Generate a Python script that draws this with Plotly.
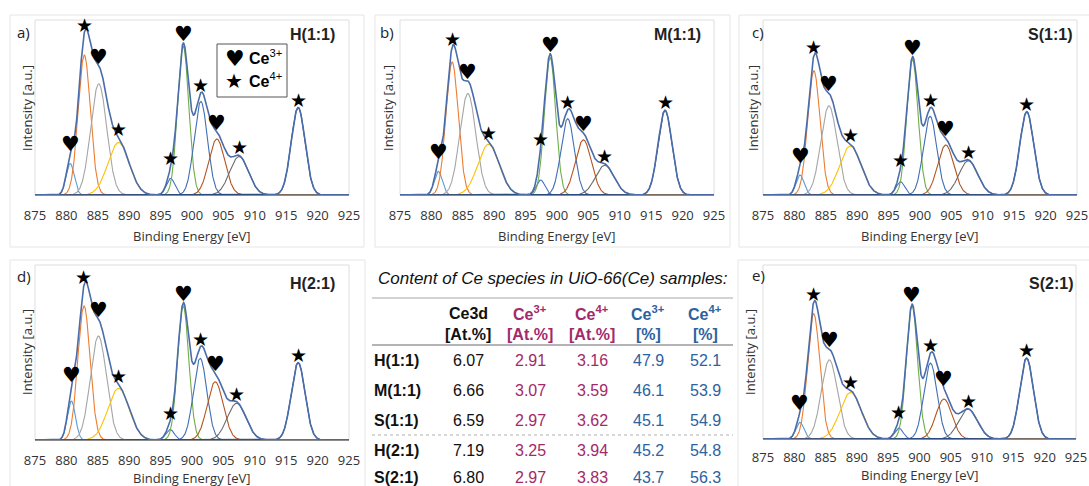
import numpy as np
import plotly.graph_objects as go

W, H = 1089, 486

# ---------------- data ----------------
energy_ticks = [875, 880, 885, 890, 895, 900, 905, 910, 915, 920, 925]
panel_letters = ["a)", "b)", "c)", "d)", "e)"]
panel_names = ["H(1:1)", "M(1:1)", "S(1:1)", "H(2:1)", "S(2:1)"]
# species of each fitted component (Ce3+ = heart, Ce4+ = star)
component_species = ["Ce3+", "Ce4+", "Ce3+", "Ce4+", "Ce4+", "Ce3+", "Ce4+", "Ce3+", "Ce4+", "Ce4+"]
component_fwhm = [1.5, 2.3, 3.0, 4.0, 1.6, 2.1, 2.5, 3.0, 3.5, 2.6]

centers_H11 = [880.6, 882.85, 885.15, 888.3, 896.6, 898.6, 901.4, 903.95, 907.5, 916.9]
heights_H11 = [0.18, 0.80, 0.636, 0.30, 0.095, 0.85, 0.535, 0.32, 0.22, 0.50]

centers_M11 = [881.1, 883.3, 885.8, 889.1, 897.4, 898.9, 901.7, 904.2, 907.6, 917.2]
heights_M11 = [0.135, 0.76, 0.58, 0.29, 0.086, 0.786, 0.436, 0.315, 0.17, 0.484]

centers_S11 = [880.9, 883.1, 885.5, 888.9, 896.9, 898.8, 901.6, 904.1, 907.7, 917.0]
heights_S11 = [0.114, 0.71, 0.51, 0.28, 0.076, 0.775, 0.45, 0.286, 0.196, 0.476]

centers_H21 = [880.8, 882.8, 885.1, 888.3, 896.5, 898.6, 901.3, 903.7, 907.1, 916.9]
heights_H21 = [0.223, 0.766, 0.594, 0.295, 0.06, 0.766, 0.467, 0.333, 0.21, 0.442]

centers_S21 = [880.9, 883.1, 885.6, 889.0, 896.7, 898.8, 901.75, 903.9, 907.75, 917.1]
heights_S21 = [0.096, 0.72, 0.455, 0.268, 0.063, 0.765, 0.436, 0.23, 0.172, 0.465]

table_samples = ["H(1:1)", "M(1:1)", "S(1:1)", "H(2:1)", "S(2:1)"]
table_ce3d_at = ["6.07", "6.66", "6.59", "7.19", "6.80"]
table_ce3_at = ["2.91", "3.07", "2.97", "3.25", "2.97"]
table_ce4_at = ["3.16", "3.59", "3.62", "3.94", "3.83"]
table_ce3_pct = ["47.9", "46.1", "45.1", "45.2", "43.7"]
table_ce4_pct = ["52.1", "53.9", "54.9", "54.8", "56.3"]

# ---------------- styles ----------------
comp_colors = ["#5B9BD5", "#ED7D31", "#A5A5A5", "#FFC000", "#4472C4",
               "#70AD47", "#3F6FB5", "#B5541F", "#6B6B6B", "#2B4A80"]
env_color = "#4A6CAA"
MAG = "#A3296A"
BLU = "#2D62A0"

def px(x):
    return x / W

def py(y):
    return 1 - y / H

def peak(x, c, h, f):
    return h * np.exp(-4 * np.log(2) * ((x - c) / f) ** 2)

# plot areas in pixels: (left, right, top, bottom)
plot_boxes = [
    (35, 349, 20, 195),
    (400, 714, 20, 195),
    (763, 1077, 20, 195),
    (35, 349, 265, 440),
    (763, 1076, 265, 439),
]
outer_boxes = [
    (10, 364, 15, 247),
    (375, 730, 15, 247),
    (739, 1095, 15, 247),
    (10, 365, 260, 495),
    (738, 1095, 260, 495),
]
tick_len = [8, 8, 8, 8, 6]
letter_pos = [(15, 32), (378, 32), (750, 32), (15, 276), (750, 275)]
name_pos = [(337, 34), (703, 34), (1074, 34), (337, 283), (1075, 283)]
ytitle_pos = [(27, 108), (388, 108), (753, 108), (27, 352), (750, 352)]
xtitle_pos = [(192, 236), (557, 236), (920, 236), (192, 478), (920, 475)]

panels = [
    (centers_H11, heights_H11),
    (centers_M11, heights_M11),
    (centers_S11, heights_S11),
    (centers_H21, heights_H21),
    (centers_S21, heights_S21),
]

fig = go.Figure()
annotations = []
shapes = []
x = np.linspace(875, 925, 1501)

for i, (centers, heights) in enumerate(panels):
    xa = "x" if i == 0 else f"x{i+1}"
    ya = "y" if i == 0 else f"y{i+1}"
    env = np.zeros_like(x)
    for k, (c, h) in enumerate(zip(centers, heights)):
        yk = peak(x, c, h, component_fwhm[k])
        env += yk
        fig.add_trace(go.Scatter(x=x, y=yk, mode="lines", xaxis=xa, yaxis=ya,
                                 line=dict(color=comp_colors[k], width=1.1),
                                 hoverinfo="skip", showlegend=False))
    fig.add_trace(go.Scatter(x=x, y=env, mode="lines", xaxis=xa, yaxis=ya,
                             line=dict(color=env_color, width=1.6),
                             hoverinfo="skip", showlegend=False))
    # species markers above each component
    for k, c in enumerate(centers):
        ev = float(np.interp(c, x, env))
        is_heart = component_species[k] == "Ce3+"
        sym = "\u2665" if is_heart else "\u2605"
        annotations.append(dict(x=c, y=ev, xref=xa, yref=ya, text=sym, showarrow=False,
                                xanchor="center", yanchor="bottom", yshift=-5,
                                font=dict(family="DejaVu Sans", size=21 if is_heart else 19,
                                          color="black")))
    L, R, T, B = plot_boxes[i]
    axname = "xaxis" if i == 0 else f"xaxis{i+1}"
    ayname = "yaxis" if i == 0 else f"yaxis{i+1}"
    fig.layout[axname] = dict(domain=[px(L), px(R)], anchor=ya, range=[875, 925],
                              tickvals=energy_ticks, ticks="outside", ticklen=tick_len[i],
                              tickcolor="rgba(0,0,0,0)", showgrid=False, zeroline=False,
                              showline=True, linecolor="#8c8c8c", linewidth=1,
                              automargin=False,
                              tickfont=dict(family="Open Sans", size=13, color="#333333"),
                              fixedrange=True)
    fig.layout[ayname] = dict(domain=[py(B), py(T)], anchor=xa, range=[0, 1],
                              showticklabels=False, showgrid=False, zeroline=False,
                              showline=False, ticks="", fixedrange=True, automargin=False)
    # plot area frame
    shapes.append(dict(type="rect", xref="paper", yref="paper",
                       x0=px(L), x1=px(R), y0=py(B), y1=py(T),
                       line=dict(color="#dedede", width=1), layer="below"))
    # chart area frame
    oL, oR, oT, oB = outer_boxes[i]
    shapes.append(dict(type="rect", xref="paper", yref="paper",
                       x0=px(oL), x1=px(oR), y0=py(oB), y1=py(oT),
                       line=dict(color="#e6e6e6", width=1), layer="below"))
    lx, ly = letter_pos[i]
    annotations.append(dict(x=px(lx), y=py(ly), xref="paper", yref="paper",
                            text=panel_letters[i], showarrow=False, xanchor="left",
                            yanchor="middle",
                            font=dict(family="Open Sans", size=15, color="#222222")))
    nx, ny = name_pos[i]
    annotations.append(dict(x=px(nx), y=py(ny), xref="paper", yref="paper",
                            text=f"<b>{panel_names[i]}</b>", showarrow=False,
                            xanchor="right", yanchor="middle",
                            font=dict(family="Liberation Sans", size=16, color="#222222")))
    tx, ty = ytitle_pos[i]
    annotations.append(dict(x=px(tx), y=py(ty), xref="paper", yref="paper",
                            text="Intensity [a.u.]", showarrow=False, textangle=-90,
                            xanchor="center", yanchor="middle",
                            font=dict(family="Open Sans", size=13, color="#333333")))
    bx, by = xtitle_pos[i]
    annotations.append(dict(x=px(bx), y=py(by), xref="paper", yref="paper",
                            text="Binding Energy [eV]", showarrow=False,
                            xanchor="center", yanchor="middle",
                            font=dict(family="Open Sans", size=13, color="#333333")))

# legend box in panel a
shapes.append(dict(type="rect", xref="paper", yref="paper",
                   x0=px(217), x1=px(287), y0=py(97), y1=py(44),
                   line=dict(color="#555555", width=1), fillcolor="white", layer="above"))
annotations.append(dict(x=px(235), y=py(58), xref="paper", yref="paper", text="\u2665",
                        showarrow=False, xanchor="center", yanchor="middle",
                        font=dict(family="DejaVu Sans", size=22, color="black")))
annotations.append(dict(x=px(234), y=py(81), xref="paper", yref="paper", text="\u2605",
                        showarrow=False, xanchor="center", yanchor="middle",
                        font=dict(family="DejaVu Sans", size=20, color="black")))
annotations.append(dict(x=px(247), y=py(57), xref="paper", yref="paper",
                        text="<b>Ce</b><sup>3+</sup>", showarrow=False, xanchor="left",
                        yanchor="middle",
                        font=dict(family="Liberation Sans", size=16, color="black")))
annotations.append(dict(x=px(247), y=py(80), xref="paper", yref="paper",
                        text="<b>Ce</b><sup>4+</sup>", showarrow=False, xanchor="left",
                        yanchor="middle",
                        font=dict(family="Liberation Sans", size=16, color="black")))

# ---------------- table ----------------
TF = "Liberation Sans"
annotations.append(dict(x=px(553), y=py(278), xref="paper", yref="paper",
                        text="<i>Content of Ce species in UiO-66(Ce) samples:</i>",
                        showarrow=False, xanchor="center", yanchor="middle",
                        font=dict(family=TF, size=17, color="#111111")))
shapes.append(dict(type="line", xref="paper", yref="paper", x0=px(372), x1=px(733),
                   y0=py(298), y1=py(298), line=dict(color="#c4c4c4", width=1.5)))
shapes.append(dict(type="line", xref="paper", yref="paper", x0=px(372), x1=px(733),
                   y0=py(345), y1=py(345), line=dict(color="#b4b4b4", width=2)))
shapes.append(dict(type="line", xref="paper", yref="paper", x0=px(372), x1=px(733),
                   y0=py(435), y1=py(435), line=dict(color="#b0b0b0", width=1, dash="dot")))

col_x = [468, 530, 592, 648, 705]
head1 = ["Ce3d", "Ce<sup>3+</sup>", "Ce<sup>4+</sup>", "Ce<sup>3+</sup>", "Ce<sup>4+</sup>"]
head2 = ["[At.%]", "[At.%]", "[At.%]", "[%]", "[%]"]
col_colors = ["#111111", MAG, MAG, BLU, BLU]
for j in range(5):
    annotations.append(dict(x=px(col_x[j]), y=py(313), xref="paper", yref="paper",
                            text=f"<b>{head1[j]}</b>", showarrow=False, xanchor="center",
                            yanchor="middle", font=dict(family=TF, size=16, color=col_colors[j])))
    annotations.append(dict(x=px(col_x[j]), y=py(334), xref="paper", yref="paper",
                            text=f"<b>{head2[j]}</b>", showarrow=False, xanchor="center",
                            yanchor="middle", font=dict(family=TF, size=16, color=col_colors[j])))

row_y = [360, 390, 420, 450, 477]
cols = [table_ce3d_at, table_ce3_at, table_ce4_at, table_ce3_pct, table_ce4_pct]
for r, s in enumerate(table_samples):
    annotations.append(dict(x=px(372), y=py(row_y[r]), xref="paper", yref="paper",
                            text=f"<b>{s}</b>", showarrow=False, xanchor="left",
                            yanchor="middle", font=dict(family=TF, size=16, color="#111111")))
    for j in range(5):
        annotations.append(dict(x=px(col_x[j]), y=py(row_y[r]), xref="paper", yref="paper",
                                text=cols[j][r], showarrow=False, xanchor="center",
                                yanchor="middle",
                                font=dict(family=TF, size=16, color=col_colors[j])))

fig.update_layout(width=W, height=H, margin=dict(l=0, r=0, t=0, b=0),
                  paper_bgcolor="white", plot_bgcolor="white", showlegend=False,
                  annotations=annotations, shapes=shapes)
fig.write_html("out.html")
